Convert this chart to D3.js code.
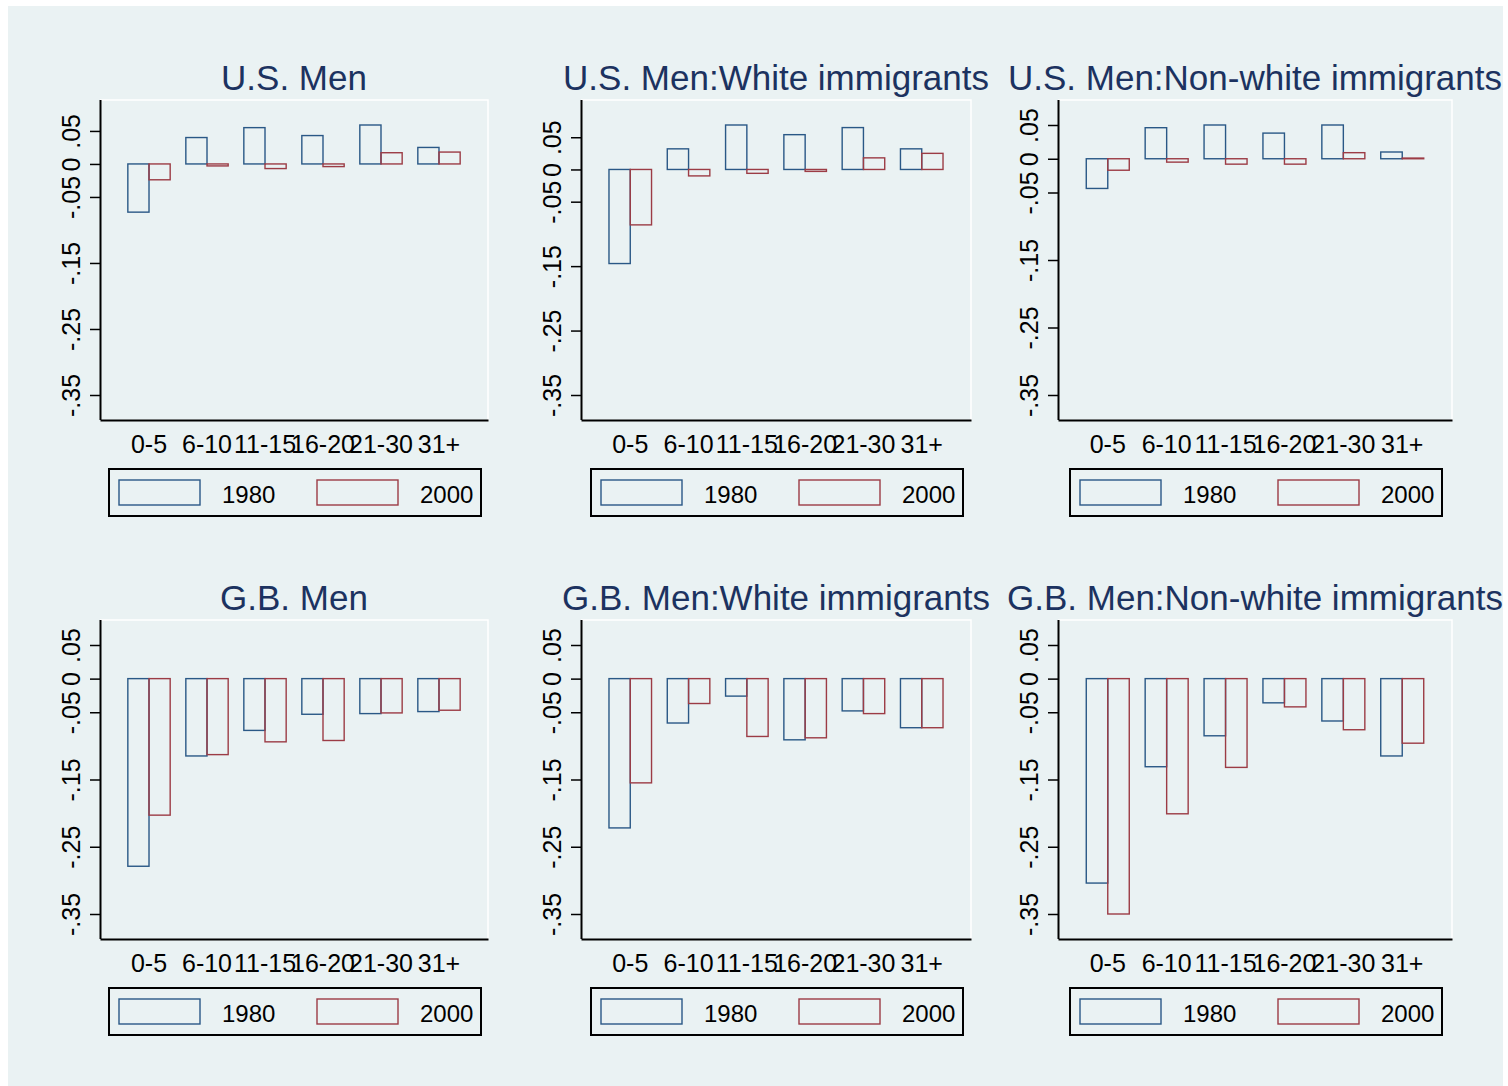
<!DOCTYPE html>
<html>
<head>
<meta charset="utf-8">
<script src="https://cdn.jsdelivr.net/npm/d3@7"></script>
<style>
    body { margin: 0; background: #ffffff; }
    svg text { font-family: 'Liberation Sans', Arial, sans-serif; }
</style>
</head>
<body>
<svg id="chart"></svg>
<script>
// age-at-arrival groups and the two census years
const categories = ['0-5', '6-10', '11-15', '16-20', '21-30', '31+'];
const years = ['1980', '2000'];

const titles = [
    'U.S. Men', 'U.S. Men:White immigrants', 'U.S. Men:Non-white immigrants',
    'G.B. Men', 'G.B. Men:White immigrants', 'G.B. Men:Non-white immigrants'
];

// values
const usMen1980 = [-0.073, 0.040, 0.055, 0.043, 0.059, 0.025];
const usMen2000 = [-0.024, -0.003, -0.007, -0.004, 0.017, 0.018];
const usWhite1980 = [-0.146, 0.032, 0.069, 0.054, 0.065, 0.032];
const usWhite2000 = [-0.086, -0.010, -0.006, -0.003, 0.018, 0.025];
const usNonWhite1980 = [-0.044, 0.046, 0.050, 0.038, 0.050, 0.010];
const usNonWhite2000 = [-0.017, -0.005, -0.008, -0.008, 0.009, 0.001];
const gbMen1980 = [-0.279, -0.115, -0.077, -0.053, -0.052, -0.049];
const gbMen2000 = [-0.203, -0.113, -0.094, -0.092, -0.051, -0.047];
const gbWhite1980 = [-0.222, -0.066, -0.026, -0.091, -0.048, -0.073];
const gbWhite2000 = [-0.155, -0.037, -0.086, -0.088, -0.052, -0.073];
const gbNonWhite1980 = [-0.304, -0.131, -0.085, -0.036, -0.063, -0.115];
const gbNonWhite2000 = [-0.350, -0.201, -0.132, -0.042, -0.076, -0.096];

const yTicks = [0.05, 0, -0.05, -0.15, -0.25, -0.35];
const yTickLabels = ['.05', '0', '-.05', '-.15', '-.25', '-.35'];

const seriesByPanel = [
    [usMen1980, usMen2000], [usWhite1980, usWhite2000], [usNonWhite1980, usNonWhite2000],
    [gbMen1980, gbMen2000], [gbWhite1980, gbWhite2000], [gbNonWhite1980, gbNonWhite2000]
];

const width = 1508;
const height = 1086;
const bg = '#eaf2f3';
const colors = ['#2a5886', '#9c3c45'];
const titleColor = '#1c3260';

// panel frames
const colX = [100, 581, 1058];
const colW = [388, 390, 394];
const rowTop = [100, 620];
const rowBottom = [420, 939];
const plotMargin = 25;

const svg = d3.select('#chart')
    .attr('width', width)
    .attr('height', height);

svg.append('rect')
    .attr('x', 8)
    .attr('y', 6)
    .attr('width', 1495)
    .attr('height', height - 6)
    .attr('fill', bg);

seriesByPanel.forEach((series, p) => {
    const r = Math.floor(p / 3);
    const w = colW[p % 3];
    const h = rowBottom[r] - rowTop[r];

    const g = svg.append('g')
        .attr('transform', `translate(${colX[p % 3]},${rowTop[r]})`);

    const x = d3.scaleBand()
        .domain(categories)
        .range([0, w])
        .paddingInner(0.27)
        .paddingOuter(0.48);

    const xYear = d3.scaleBand()
        .domain(years)
        .range([0, x.bandwidth()]);

    // stata-like range: covers ticks and data, inset by a fixed margin
    const all = series.flat().concat(yTicks);
    const y = d3.scaleLinear()
        .domain([d3.min(all), d3.max(all)])
        .range([h - plotMargin, plotMargin]);

    // plot region border (white, top and right)
    g.append('path')
        .attr('d', `M0,0H${w}V${h}`)
        .attr('fill', 'none')
        .attr('stroke', '#ffffff')
        .attr('stroke-width', 1.5);

    g.append('text')
        .attr('x', w / 2)
        .attr('y', -10)
        .attr('text-anchor', 'middle')
        .attr('font-size', 35)
        .attr('fill', titleColor)
        .text(titles[p]);

    const groups = categories.map((c, i) => ({
        cat: c,
        vals: years.map((yr, k) => ({ year: yr, k: k, v: series[k][i] }))
    }));

    g.selectAll('g.group')
        .data(groups)
        .join('g')
            .classed('group', true)
            .attr('transform', d => `translate(${x(d.cat)},0)`)
        .selectAll('rect')
        .data(d => d.vals)
        .join('rect')
            .attr('x', d => xYear(d.year))
            .attr('y', d => y(Math.max(0, d.v)))
            .attr('width', xYear.bandwidth())
            .attr('height', d => Math.abs(y(d.v) - y(0)))
            .attr('fill', 'none')
            .attr('stroke', d => colors[d.k])
            .attr('stroke-width', 1.4);

    const yAxis = g.append('g')
        .call(d3.axisLeft(y)
            .tickValues(yTicks)
            .tickFormat((d, i) => yTickLabels[i])
            .tickSize(10)
            .tickSizeOuter(0));
    yAxis.select('.domain')
        .attr('d', `M0.5,0V${h}`)
        .attr('stroke', '#000')
        .attr('stroke-width', 2);
    yAxis.selectAll('.tick line')
        .attr('stroke', '#000')
        .attr('stroke-width', 1.5);
    yAxis.selectAll('.tick text')
        .attr('x', null)
        .attr('dy', null)
        .attr('text-anchor', 'middle')
        .attr('transform', 'translate(-20,0) rotate(-90)')
        .attr('font-size', 25)
        .attr('fill', '#000');

    const xAxis = g.append('g')
        .attr('transform', `translate(0,${h})`)
        .call(d3.axisBottom(x).tickSize(0).tickSizeOuter(0));
    xAxis.select('.domain')
        .attr('stroke', '#000')
        .attr('stroke-width', 2);
    xAxis.selectAll('.tick text')
        .attr('y', 33)
        .attr('dy', null)
        .attr('font-size', 25)
        .attr('fill', '#000');

    // legend
    const legend = g.append('g')
        .attr('transform', `translate(${w / 2 - 185},${h + 49})`);
    legend.append('rect')
        .attr('width', 372)
        .attr('height', 47)
        .attr('fill', 'none')
        .attr('stroke', '#000')
        .attr('stroke-width', 2);
    const items = legend.selectAll('g.item')
        .data(years)
        .join('g')
            .classed('item', true)
            .attr('transform', (d, i) => `translate(${10 + i * 198},11)`);
    items.append('rect')
        .attr('width', 81)
        .attr('height', 25)
        .attr('fill', 'none')
        .attr('stroke', (d, i) => colors[i])
        .attr('stroke-width', 1.4);
    items.append('text')
        .attr('x', 103)
        .attr('y', 23)
        .attr('font-size', 24)
        .attr('fill', '#000')
        .text(d => d);
});
</script>
</body>
</html>
